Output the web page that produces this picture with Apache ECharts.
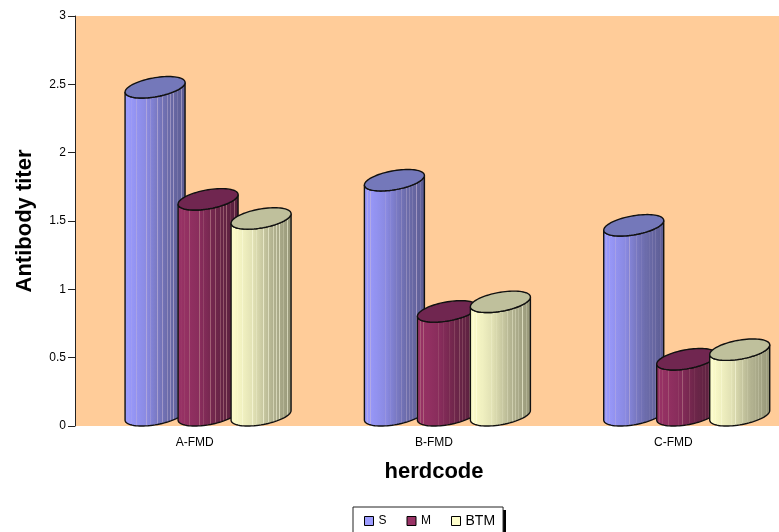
<!DOCTYPE html>
<html>
<head>
<meta charset="utf-8">
<script src="https://cdn.jsdelivr.net/npm/echarts@6/dist/echarts.min.js"></script>
<style>
  html, body { margin: 0; padding: 0; background: #fff; }
  #chart { width: 779px; height: 532px; }
</style>
</head>
<body>
<div id="chart"></div>
<script>
const categories = ['A-FMD', 'B-FMD', 'C-FMD'];
const valuesS = [2.40, 1.72, 1.39];
const valuesM = [1.58, 0.76, 0.41];
const valuesBTM = [1.44, 0.83, 0.48];
const yTicks = ['0', '0.5', '1', '1.5', '2', '2.5', '3'];

// cylinder look, one entry per series
const looks = {
  S: { offset: -39.6, top: '#7478BA', colors: ['#9C9CFF', '#8C8CE6', '#6E6EAE', '#5C5C92'], streak: '#C8B8D8' },
  M: { offset: 13.4, top: '#702650', colors: ['#993366', '#8C2E5E', '#6A2548', '#56203C'], streak: '#C08A90' },
  BTM: { offset: 66.4, top: '#BFC09C', colors: ['#FFFFCC', '#E6E6B8', '#B4B492', '#969678'], streak: '#FFFFE4' }
};
const streaks = [0.06, 0.11, 0.2, 0.36, 0.43, 0.54, 0.62, 0.7, 0.75, 0.8, 0.86, 0.93];

const halfW = 30;   // half width of a cylinder
const tilt = 4.8;   // ends of the ellipse are this far off level
const halfH = 9.6;
const drop = Math.sqrt(tilt * tilt + halfH * halfH);

function mix(a, b, t) {
  const pa = parseInt(a.slice(1), 16), pb = parseInt(b.slice(1), 16);
  let out = '#';
  [16, 8, 0].forEach(function (s) {
    const v = Math.round(((pa >> s) & 255) * (1 - t) + ((pb >> s) & 255) * t);
    out += (v < 16 ? '0' : '') + v.toString(16);
  });
  return out;
}

function baseColor(colors, p) {
  const n = colors.length - 1;
  const i = Math.min(Math.floor(p * n), n - 1);
  return mix(colors[i], colors[i + 1], p * n - i);
}

function bodyGradient(look) {
  const stops = [{ offset: 0, color: look.colors[0] }];
  streaks.forEach(function (p) {
    const c = baseColor(look.colors, p);
    stops.push({ offset: p - 0.008, color: c });
    stops.push({ offset: p, color: mix(c, look.streak, 0.6) });
    stops.push({ offset: p + 0.008, color: c });
  });
  stops.push({ offset: 1, color: look.colors[3] });
  return new echarts.graphic.LinearGradient(0, 0, 1, 0, stops);
}

function ellipsePoint(cx, cy, t) {
  return [cx + halfW * Math.cos(t), cy - tilt * Math.cos(t) + halfH * Math.sin(t)];
}

function cylinder(look) {
  const fill = bodyGradient(look);
  return function (params, api) {
    const p = api.coord([api.value(0), api.value(1)]);
    const p0 = api.coord([api.value(0), 0]);
    const cx = p[0] + look.offset;
    const topY = p[1] - drop;
    const baseY = p0[1] - drop;
    const body = [];
    const lid = [];
    for (let i = 0; i <= 40; i++) {
      body.push(ellipsePoint(cx, baseY, Math.PI * i / 40));
    }
    for (let i = 0; i <= 40; i++) {
      body.push(ellipsePoint(cx, topY, Math.PI - Math.PI * i / 40));
    }
    for (let i = 0; i < 80; i++) {
      lid.push(ellipsePoint(cx, topY, Math.PI * 2 * i / 80));
    }
    const line = { stroke: '#111', lineWidth: 1.4 };
    return {
      type: 'group',
      children: [
        { type: 'polygon', shape: { points: body }, style: Object.assign({ fill: fill }, line) },
        { type: 'polygon', shape: { points: lid }, style: Object.assign({ fill: look.top }, line) }
      ]
    };
  };
}

function makeSeries(name, values) {
  return {
    name: name,
    type: 'custom',
    renderItem: cylinder(looks[name]),
    encode: { x: 0, y: 1 },
    itemStyle: { color: looks[name].colors[0] },
    clip: false,
    data: values.map(function (v, i) { return [i, v]; })
  };
}

const chart = echarts.init(document.getElementById('chart'));
chart.setOption({
  animation: false,
  backgroundColor: '#fff',
  textStyle: { fontFamily: 'Liberation Sans' },
  // the plot runs past the right edge of the picture, as in the original
  grid: {
    left: 75, top: 16, width: 718, height: 410,
    outerBoundsMode: 'none',
    show: true, backgroundColor: '#FFCC99', borderWidth: 0
  },
  // hard shadow of the legend box, sits behind the legend
  graphic: [{
    type: 'rect',
    z: 1,
    shape: { x: 356, y: 510, width: 150, height: 24 },
    style: { fill: '#000' }
  }],
  legend: {
    left: 353,
    top: 507,
    z: 5,
    padding: [7, 8, 7, 11],
    itemWidth: 9,
    itemHeight: 9,
    itemGap: 20,
    icon: 'rect',
    backgroundColor: '#fff',
    borderColor: '#222',
    borderWidth: 1,
    itemStyle: { borderColor: '#000', borderWidth: 1 },
    data: [
      { name: 'S', textStyle: { fontSize: 12 } },
      { name: 'M', textStyle: { fontSize: 12 } },
      { name: 'BTM', textStyle: { fontSize: 14 } }
    ],
    textStyle: { color: '#000' }
  },
  xAxis: {
    type: 'category',
    data: categories,
    name: 'herdcode',
    nameLocation: 'middle',
    nameGap: 35,
    nameTextStyle: { fontSize: 22, fontWeight: 'bold', color: '#000' },
    axisLine: { show: false },
    axisTick: { show: false },
    axisLabel: { fontSize: 12, color: '#000', margin: 11 }
  },
  yAxis: {
    type: 'value',
    min: 0,
    max: 3,
    interval: 0.5,
    name: 'Antibody titer',
    nameLocation: 'middle',
    nameGap: 39,
    nameTextStyle: { fontSize: 22, fontWeight: 'bold', color: '#000' },
    splitLine: { show: false },
    axisLine: { show: true, lineStyle: { color: '#222', width: 1 } },
    axisTick: { show: true, length: 7, lineStyle: { color: '#222' } },
    axisLabel: {
      fontSize: 12,
      color: '#000',
      margin: 9,
      formatter: function (v) { return yTicks[Math.round(v / 0.5)]; }
    }
  },
  series: [makeSeries('S', valuesS), makeSeries('M', valuesM), makeSeries('BTM', valuesBTM)]
});
</script>
</body>
</html>
